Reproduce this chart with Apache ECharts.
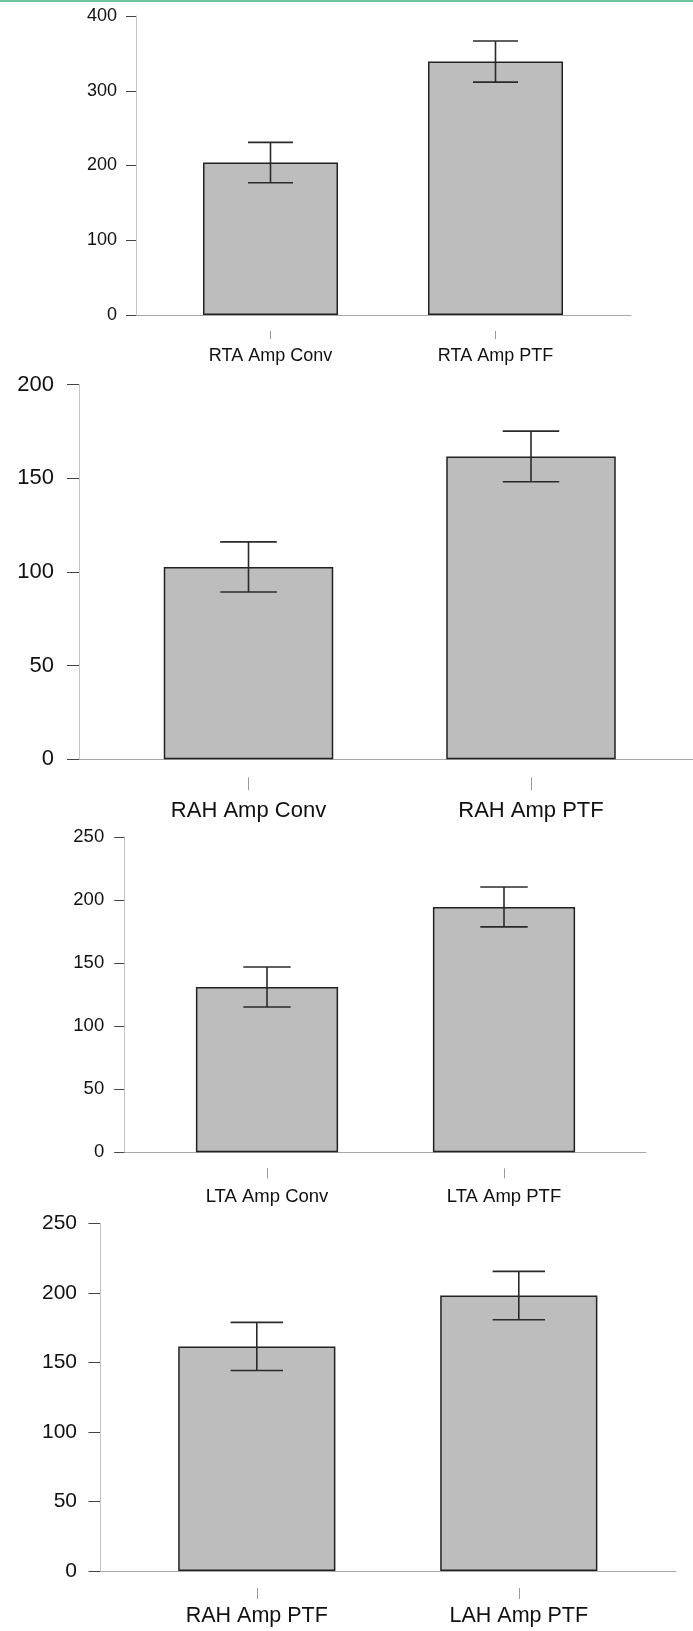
<!DOCTYPE html>
<html>
<head>
<meta charset="utf-8">
<script src="https://cdn.jsdelivr.net/npm/echarts@6/dist/echarts.min.js"></script>
<style>
  html, body { margin: 0; padding: 0; background: #fff; }
  #main { width: 693px; height: 1631px; }
</style>
</head>
<body>
<div id="main"></div>
<script>
// categories, means and error (half-length) per panel
var cats1 = ['RTA Amp Conv', 'RTA Amp PTF'];
var mean1 = [204, 339];
var err1 = [27, 27.5];

var cats2 = ['RAH Amp Conv', 'RAH Amp PTF'];
var mean2 = [102.7, 161.7];
var err2 = [13.4, 13.5];

var cats3 = ['LTA Amp Conv', 'LTA Amp PTF'];
var mean3 = [131.2, 194.7];
var err3 = [15.9, 15.8];

var cats4 = ['RAH Amp PTF', 'LAH Amp PTF'];
var mean4 = [161.5, 198];
var err4 = [17.3, 17.4];

// y axis ranges
var yMax = [400, 200, 250, 250];
var yStep = [100, 50, 50, 50];

var FONT = 'Liberation Sans, Arial, sans-serif';

// layout of each panel (pixels)
var panels = [
    { cats: cats1, mean: mean1, err: err1, top: 16, bottom: 1316,
      frameL: 136, frameR: 62, dataL: 158, dataR: 85,
      yFont: 18, yTick: 10, yMargin: 19, xFont: 18, xOff: 16, xTick: 8, xMargin: 16 },
    { cats: cats2, mean: mean2, err: err2, top: 384.7, bottom: 871.7,
      frameL: 79, frameR: 0, dataL: 107.25, dataR: 20.75,
      yFont: 22, yTick: 12, yMargin: 25, xFont: 22, xOff: 18, xTick: 13, xMargin: 23 },
    { cats: cats3, mean: mean3, err: err3, top: 837.3, bottom: 478.7,
      frameL: 124.2, frameR: 47, dataL: 148.5, dataR: 70.5,
      yFont: 18.5, yTick: 10, yMargin: 20, xFont: 18.5, xOff: 16, xTick: 10, xMargin: 19 },
    { cats: cats4, mean: mean4, err: err4, top: 1223.3, bottom: 60,
      frameL: 100, frameR: 17, dataL: 125.8, dataR: 43.2,
      yFont: 21, yTick: 11.5, yMargin: 23, xFont: 21.5, xOff: 17, xTick: 11, xMargin: 17 }
];

var grid = [], xAxis = [], yAxis = [], series = [];

panels.forEach(function (p, i) {
    var f = i * 2, d = i * 2 + 1;
    grid.push({ left: p.frameL, right: p.frameR, top: p.top, bottom: p.bottom });
    grid.push({ left: p.dataL, right: p.dataR, top: p.top, bottom: p.bottom });

    // frame: axis lines + y labels
    xAxis.push({
        type: 'category', gridIndex: f, data: [''],
        axisLine: { onZero: false, lineStyle: { color: '#a8a8a8', width: 1 } },
        axisTick: { show: false }, axisLabel: { show: false }
    });
    yAxis.push({
        type: 'value', gridIndex: f, min: 0, max: yMax[i], interval: yStep[i],
        splitLine: { show: false },
        axisLine: { show: true, lineStyle: { color: '#c4c4c4', width: 1 } },
        axisTick: { show: true, length: p.yTick, lineStyle: { color: '#444' } },
        axisLabel: { color: '#111', fontSize: p.yFont, fontFamily: FONT, margin: p.yMargin }
    });

    // data grid: categories, ticks sit below the axis line with a gap
    xAxis.push({
        type: 'category', gridIndex: d, data: p.cats, offset: p.xOff,
        axisLine: { show: false, onZero: false },
        axisTick: { show: true, alignWithLabel: true, length: p.xTick, lineStyle: { color: '#9a9a9a' } },
        axisLabel: { color: '#111', fontSize: p.xFont, fontFamily: FONT, margin: p.xMargin }
    });
    yAxis.push({ type: 'value', gridIndex: d, min: 0, max: yMax[i], interval: yStep[i], show: false });

    series.push({
        type: 'bar', xAxisIndex: d, yAxisIndex: d, barWidth: '60%',
        data: p.mean,
        itemStyle: { color: '#bdbdbd', borderColor: '#222', borderWidth: 1.5 },
        silent: true, animation: false
    });

    var errData = p.mean.map(function (m, k) { return [k, m - p.err[k], m + p.err[k]]; });
    series.push({
        type: 'custom', xAxisIndex: d, yAxisIndex: d, z: 5, animation: false, silent: true,
        data: errData,
        renderItem: function (params, api) {
            var lo = api.coord([api.value(0), api.value(1)]);
            var hi = api.coord([api.value(0), api.value(2)]);
            var half = api.size([1, 0])[0] * 0.1;
            var st = { stroke: '#2a2a2a', lineWidth: 1.6 };
            return {
                type: 'group',
                children: [
                    { type: 'line', shape: { x1: lo[0], y1: lo[1], x2: hi[0], y2: hi[1] }, style: st },
                    { type: 'line', shape: { x1: lo[0] - half, y1: lo[1], x2: lo[0] + half, y2: lo[1] }, style: st },
                    { type: 'line', shape: { x1: hi[0] - half, y1: hi[1], x2: hi[0] + half, y2: hi[1] }, style: st }
                ]
            };
        }
    });
});

var myChart = echarts.init(document.getElementById('main'));
myChart.setOption({
    animation: false,
    graphic: [{ type: 'rect', left: 0, top: 0, shape: { width: 693, height: 2 }, style: { fill: '#6cc59e' } }],
    grid: grid,
    xAxis: xAxis,
    yAxis: yAxis,
    series: series
});
</script>
</body>
</html>
